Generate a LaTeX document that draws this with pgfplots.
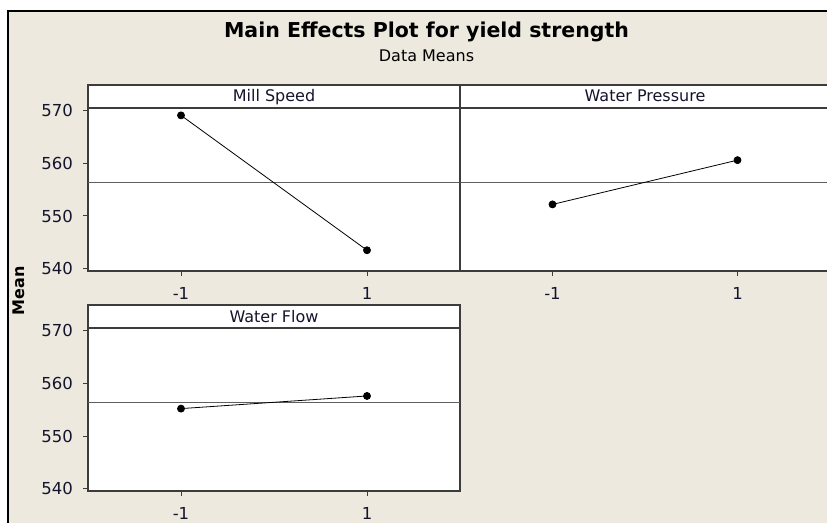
\documentclass[border=0pt]{standalone}
\usepackage{pgfplots}
\pgfplotsset{compat=1.18}
\usepackage{fontspec}
\setmainfont{DejaVu Sans}
\definecolor{bg}{RGB}{238,233,222}
\definecolor{axc}{RGB}{60,60,60}
\definecolor{meanc}{RGB}{95,95,95}
\definecolor{txt}{RGB}{20,20,45}
\pgfplotsset{
  panel/.style={
    scale only axis, width=372pt, height=163pt,
    xmin=-2, xmax=2, ymin=539.56, ymax=570.5,
    axis background/.style={fill=white},
    axis line style={axc, line width=1.2pt},
    tick style={axc, line width=1pt},
    major tick length=5pt, tick align=outside,
    xtick={-1,1}, xticklabels={{-1},{1}},
    xtick pos=bottom, ytick pos=left,
    ticklabel style={font=\fontsize{16.5}{19}\selectfont, text=txt},
    xticklabel style={yshift=-7.5pt},
    yticklabel style={xshift=-6.5pt},
    clip=false,
  },
  ylab/.style={ytick={540,550,560,570}, yticklabels={540,550,560,570}},
  noylab/.style={ytick=\empty},
}
\newcommand{\strip}[1]{%
  \draw[axc, line width=1.2pt, fill=white] (rel axis cs:0,1) rectangle ([yshift=23pt]rel axis cs:1,1);
  \node[anchor=base, font=\fontsize{16}{19}\selectfont, text=txt, inner sep=0pt] at ([yshift=6pt]rel axis cs:0.5,1) {#1};
}
\begin{document}
\begin{tikzpicture}[x=1pt,y=1pt]
\fill[white] (0,0) rectangle (827,523);
\fill[bg] (8,0) rectangle (827,512);
\draw[black, line width=2.5pt] (8,0) -- (8,512) -- (830,512);
\node[anchor=base, font=\fontsize{20.5}{24}\selectfont\bfseries, inner sep=0pt] at (426.5,485) {Main Effects Plot for yield strength};
\node[anchor=base, font=\fontsize{16}{19}\selectfont, inner sep=0pt] at (426.5,461) {Data Means};
\node[rotate=90, font=\fontsize{16}{19}\selectfont\bfseries, inner sep=0pt] at (19,232) {Mean};

% Mill Speed
\begin{axis}[panel, ylab, at={(88pt,252pt)}, anchor=south west]
\addplot[meanc, line width=1pt] coordinates {(-2,556.4) (2,556.4)};
\addplot[black, line width=0.8pt, mark=*, mark size=3.5pt] coordinates {(-1,569.1) (1,543.5)};
\strip{Mill Speed}
\end{axis}

% Water Pressure
\begin{axis}[panel, noylab, width=370pt, at={(460pt,252pt)}, anchor=south west]
\addplot[meanc, line width=1pt] coordinates {(-2,556.4) (2,556.4)};
\addplot[black, line width=0.8pt, mark=*, mark size=3.5pt] coordinates {(-1,552.2) (1,560.6)};
\strip{Water Pressure}
\end{axis}

% Water Flow
\begin{axis}[panel, ylab, at={(88pt,32pt)}, anchor=south west]
\addplot[meanc, line width=1pt] coordinates {(-2,556.4) (2,556.4)};
\addplot[black, line width=0.8pt, mark=*, mark size=3.5pt] coordinates {(-1,555.2) (1,557.6)};
\strip{Water Flow}
\end{axis}

\pgfresetboundingbox
\useasboundingbox (0,0) rectangle (827,523);
\end{tikzpicture}
\end{document}
